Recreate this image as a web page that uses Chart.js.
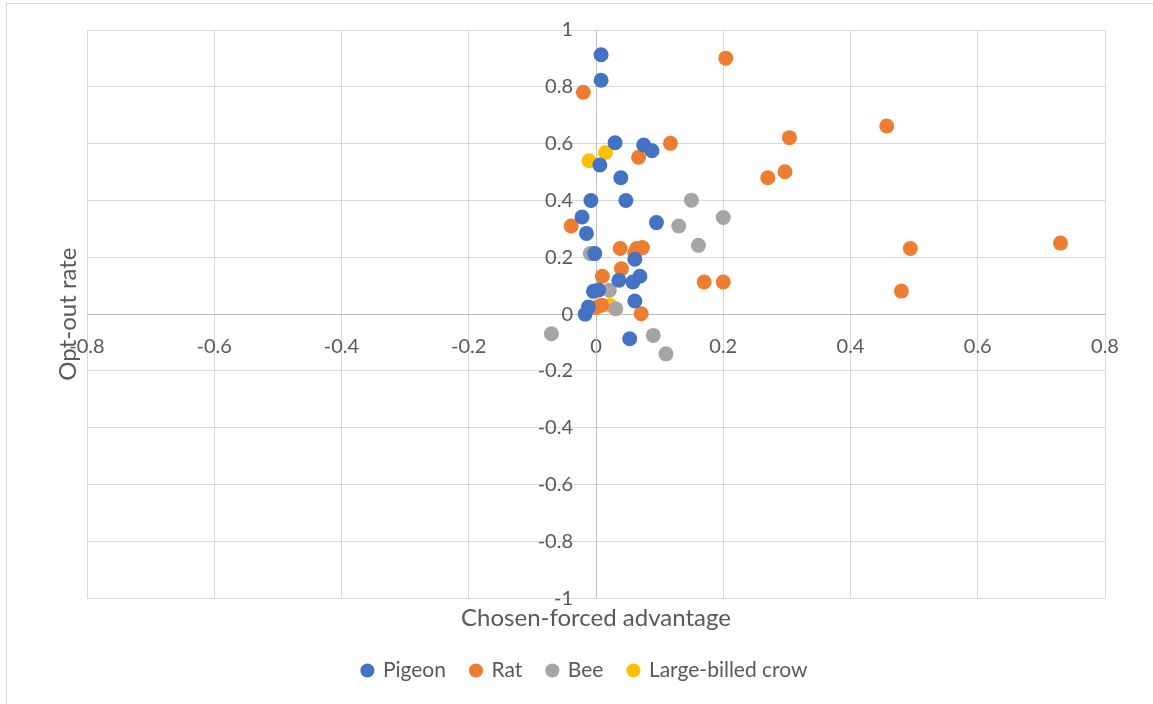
<!DOCTYPE html>
<html>
<head>
<meta charset="utf-8">
<title>Opt-out rate vs chosen-forced advantage</title>
<script src="https://cdn.jsdelivr.net/npm/chart.js"></script>
<style>
  html, body { margin: 0; padding: 0; background: #fff; }
  #wrap { width: 1153px; height: 704px; }
</style>
</head>
<body>
<div id="wrap"><canvas id="chart"></canvas></div>
<script>
  // [chosen-forced advantage, opt-out rate]
  const pigeon = [
    [0.008, 0.913], [0.008, 0.823], [0.030, 0.603], [0.075, 0.595], [0.088, 0.575],
    [0.006, 0.525], [0.039, 0.480], [-0.008, 0.400], [0.047, 0.400], [-0.022, 0.342],
    [-0.015, 0.284], [0.095, 0.322], [-0.002, 0.213], [0.061, 0.193], [0.069, 0.133],
    [0.058, 0.113], [0.036, 0.119], [-0.004, 0.080], [0.004, 0.085], [0.061, 0.046],
    [-0.017, 0.000], [-0.012, 0.025], [0.053, -0.087]
  ];
  const rat = [
    [-0.020, 0.781], [0.204, 0.901], [0.117, 0.601], [0.067, 0.552], [0.304, 0.621],
    [0.297, 0.501], [0.270, 0.480], [0.457, 0.662], [0.170, 0.113], [0.200, 0.113],
    [0.494, 0.231], [0.480, 0.081], [0.730, 0.250], [-0.039, 0.310], [0.038, 0.231],
    [0.064, 0.231], [0.073, 0.234], [0.061, 0.215], [0.040, 0.160], [0.010, 0.133],
    [0.000, 0.023], [0.009, 0.031], [0.071, 0.001]
  ];
  const bee = [
    [0.150, 0.401], [0.200, 0.340], [0.130, 0.310], [0.161, 0.242], [-0.070, -0.069],
    [0.090, -0.075], [0.110, -0.140], [-0.009, 0.213], [0.021, 0.084], [0.031, 0.019]
  ];
  const crow = [
    [-0.011, 0.540], [0.015, 0.569], [0.022, 0.031]
  ];

  const seriesNames = ["Pigeon", "Rat", "Bee", "Large-billed crow"];
  const seriesColors = ["#4472C4", "#ED7D31", "#A5A5A5", "#FFC000"];
  const xRange = [-0.8, 0.8];
  const yRange = [-1, 1];

  const FONT = "Lato, 'Open Sans', sans-serif";
  const TEXT = "#595959";
  const Y_LABEL_GAP = 23;

  const toPoints = arr => arr.map(p => ({ x: p[0], y: p[1] }));
  const fmt = v => String(Math.round(v * 10) / 10);

  // frame around the chart, y-axis title, legend and tick-label nudges
  const extras = {
    id: "extras",
    afterLayout(chart) {
      // Excel centres the legend a little left of the plot centre
      chart.legend.left -= 11;
      chart.legend.right -= 11;
    },
    beforeDraw(chart) {
      // a y axis placed at x = 0 puts its labels right against the line;
      // move them left so they sit clear of it like in Excel
      const ys = chart.scales.y;
      ys._labelItems = null;
      ys.getLabelItems(chart.chartArea).forEach(item => {
        item.options.translation[0] -= Y_LABEL_GAP;
      });

      const ctx = chart.ctx;
      ctx.save();
      ctx.strokeStyle = "#D9D9D9";
      ctx.lineWidth = 1;
      ctx.strokeRect(6.5, 3.5, chart.width + 10, chart.height + 10);
      ctx.restore();
    },
    afterDraw(chart) {
      const ctx = chart.ctx;
      const area = chart.chartArea;
      ctx.save();
      ctx.translate(68, (area.top + area.bottom) / 2);
      ctx.rotate(-Math.PI / 2);
      ctx.font = "24px " + FONT;
      ctx.fillStyle = TEXT;
      ctx.textAlign = "center";
      ctx.textBaseline = "middle";
      ctx.fillText("Opt-out rate", 0, 0);
      ctx.restore();
    }
  };

  new Chart(document.getElementById("chart"), {
    type: "scatter",
    data: {
      datasets: [pigeon, rat, bee, crow].map((d, i) => ({
        label: seriesNames[i],
        data: toPoints(d),
        backgroundColor: seriesColors[i],
        borderColor: seriesColors[i],
        borderWidth: 0,
        pointRadius: 7.5,
        pointHoverRadius: 7.5
      }))
    },
    options: {
      responsive: true,
      maintainAspectRatio: false,
      animation: false,
      layout: { padding: { left: 87, top: 30, right: 48, bottom: 13 } },
      scales: {
        x: {
          type: "linear",
          min: xRange[0],
          max: xRange[1],
          position: { y: 0 },
          ticks: { stepSize: 0.2, callback: fmt, padding: 20, maxRotation: 0,
                   color: TEXT, font: { family: FONT, size: 20 } },
          grid: { color: "#D9D9D9", drawTicks: false },
          border: { color: "#BFBFBF" },
          afterFit(scale) { scale.paddingLeft = 0; scale.paddingRight = 0; }
        },
        y: {
          type: "linear",
          min: yRange[0],
          max: yRange[1],
          position: { x: 0 },
          ticks: { stepSize: 0.2, callback: fmt, padding: 0,
                   color: TEXT, font: { family: FONT, size: 20 } },
          grid: { color: "#D9D9D9", drawTicks: false },
          border: { color: "#BFBFBF" },
          afterFit(scale) { scale.paddingTop = 0; scale.paddingBottom = 0; }
        }
      },
      plugins: {
        title: {
          display: true,
          text: "Chosen-forced advantage",
          position: "bottom",
          weight: 500,
          color: TEXT,
          font: { family: FONT, size: 24, weight: "normal" },
          padding: { top: 6, bottom: 2 }
        },
        legend: {
          position: "bottom",
          labels: {
            usePointStyle: true,
            pointStyle: "circle",
            boxWidth: 10,
            boxHeight: 10,
            padding: 25,
            color: TEXT,
            font: { family: FONT, size: 21 }
          }
        },
        tooltip: { enabled: false }
      }
    },
    plugins: [extras]
  });
</script>
</body>
</html>
